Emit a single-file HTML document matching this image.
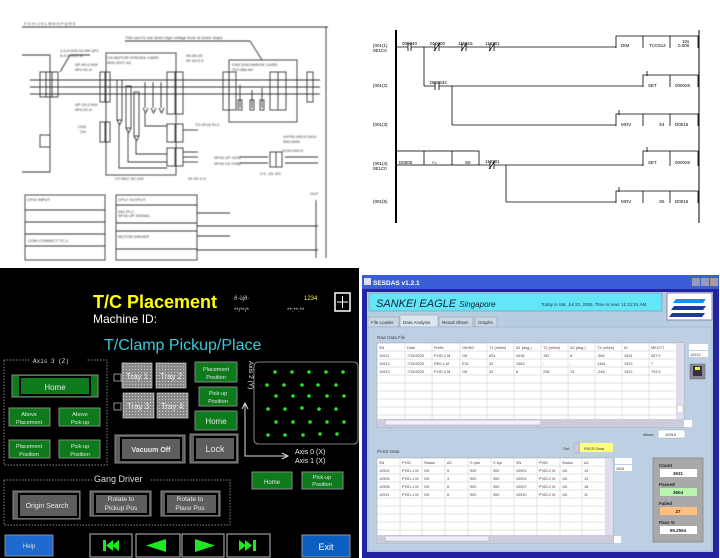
<!DOCTYPE html>
<html><head><meta charset="utf-8"><style>
html,body{margin:0;padding:0;background:#fff;}
svg{display:block;font-family:"Liberation Sans",sans-serif;}
</style></head><body>
<svg width="720" height="558" viewBox="0 0 720 558" xmlns="http://www.w3.org/2000/svg">
<defs>
<filter id="bl"><feGaussianBlur stdDeviation="0.4"/></filter>
<pattern id="dots" width="3" height="3" patternUnits="userSpaceOnUse"><rect width="3" height="3" fill="#8a8a8a"/><rect width="1" height="1" fill="#d0d0d0"/></pattern>
</defs>
<rect width="720" height="558" fill="#fff"/>

<!-- ===== left schematic ===== -->
<g stroke="#333" stroke-width="0.9" fill="none" filter="url(#bl)">
<line x1="22" y1="27" x2="328" y2="27"/>
<line x1="326" y1="27" x2="326" y2="258"/>
<polyline points="22,55 50,55 50,172 22,172"/>
<rect x="40" y="72" width="18" height="25"/><line x1="46" y1="72" x2="46" y2="97"/><line x1="52" y1="72" x2="52" y2="97"/>
<rect x="100" y="72" width="10" height="30"/><line x1="105" y1="72" x2="105" y2="102"/>
<rect x="106" y="53" width="70" height="122"/>
<rect x="167" y="72" width="16" height="42"/><line x1="175" y1="72" x2="175" y2="114"/>
<rect x="100" y="122" width="10" height="20"/><line x1="105" y1="122" x2="105" y2="142"/>
<rect x="167" y="124" width="16" height="18"/><line x1="175" y1="124" x2="175" y2="142"/>
<rect x="167" y="148" width="16" height="18"/><line x1="175" y1="148" x2="175" y2="166"/>
<rect x="229" y="60" width="68" height="62"/>
<rect x="223" y="72" width="13" height="38"/><line x1="229" y1="72" x2="229" y2="110"/>
<rect x="270" y="72" width="16" height="38"/><line x1="278" y1="72" x2="278" y2="110"/>
<rect x="307" y="72" width="6" height="30"/>
<line x1="30" y1="80" x2="320" y2="80"/>
<line x1="30" y1="87" x2="320" y2="87"/>
<line x1="30" y1="94" x2="320" y2="94"/>
<rect x="117" y="80" width="5" height="40"/>
<rect x="126" y="86" width="5" height="42"/>
<rect x="134" y="92" width="5" height="44"/>
<path d="M117 120 l2.5 5 l2.5 -5 M126 128 l2.5 5 l2.5 -5 M134 136 l2.5 5 l2.5 -5 M143 108 l2.5 5 l2.5 -5 M151 108 l2.5 5 l2.5 -5 M159 108 l2.5 5 l2.5 -5"/>
<line x1="145" y1="82" x2="145" y2="108"/>
<line x1="153" y1="82" x2="153" y2="108"/>
<line x1="161" y1="82" x2="161" y2="108"/>
<polyline points="145,113 145,126 167,126"/>
<polyline points="119,125 119,168 167,168"/>
<polyline points="128,133 128,162 167,162"/>
<polyline points="136,141 136,154 167,154"/>
<line x1="240" y1="85" x2="240" y2="108"/>
<line x1="252" y1="90" x2="252" y2="108"/>
<line x1="262" y1="88" x2="262" y2="108"/>
<rect x="238" y="100" width="4" height="10"/><rect x="250" y="100" width="4" height="10"/><rect x="260" y="100" width="4" height="10"/>
<line x1="183" y1="152" x2="198" y2="152"/>
<line x1="183" y1="157" x2="198" y2="157"/>
<line x1="183" y1="162" x2="198" y2="162"/>
<line x1="183" y1="130" x2="198" y2="130"/>
<line x1="240" y1="157" x2="268" y2="157"/>
<line x1="240" y1="163" x2="268" y2="163"/>
<rect x="270" y="152" width="12" height="15"/><line x1="276" y1="152" x2="276" y2="167"/>
<line x1="285" y1="157" x2="318" y2="157"/>
<line x1="285" y1="163" x2="318" y2="163"/>
<line x1="125" y1="41" x2="250" y2="41"/>
<polyline points="250,41 262,60"/><polyline points="60,72 70,55 90,55"/>
<rect x="40" y="135" width="10" height="12"/>
<rect x="25" y="195" width="80" height="65"/>
<line x1="25" y1="210" x2="105" y2="210"/>
<line x1="25" y1="222" x2="105" y2="222"/>
<line x1="25" y1="234" x2="105" y2="234"/>
<line x1="25" y1="246" x2="105" y2="246"/>
<rect x="116" y="195" width="81" height="65"/>
<line x1="116" y1="205" x2="197" y2="205"/>
<line x1="116" y1="223" x2="197" y2="223"/>
<line x1="116" y1="231" x2="197" y2="231"/>
<line x1="116" y1="249" x2="197" y2="249"/>
<line x1="197" y1="213" x2="230" y2="213"/>
<line x1="197" y1="236" x2="230" y2="236"/>
<line x1="197" y1="226" x2="318" y2="226"/>
<line x1="197" y1="250" x2="318" y2="250"/>
<line x1="316" y1="200" x2="316" y2="258"/>
</g>
<g font-size="4" fill="#333" filter="url(#bl)">
<text x="125" y="39">This card is use when high voltage level of motor stops.</text>
<text x="107" y="59">CN MOTOR STROKE CARD</text>
<text x="107" y="64">M02-0027-A1</text>
<text x="232" y="66">CN3 DISCHARGE CARD</text>
<text x="232" y="71">ITO-089-A0</text>
<text x="60" y="52">1-0-0-003-GL0W UP1</text>
<text x="60" y="57">A-0-0-0CF-A</text>
<text x="75" y="66">SP-40-0 009</text><text x="75" y="71">0F0-0C-0</text>
<text x="75" y="106">SP-10-0 009</text><text x="75" y="111">0F0-0C-0</text>
<text x="78" y="128">CN3</text><text x="80" y="133">CN</text>
<text x="186" y="57">09-0A-00</text><text x="186" y="62">0F-00-0 0</text>
<text x="195" y="126">TO 0F16 PLC</text>
<text x="283" y="138">X4T00-000-0 0410</text><text x="283" y="143">000-0004</text>
<text x="282" y="152">0C00-000-0</text>
<text x="214" y="159">SP16 UP  X20E</text><text x="214" y="165">SP16 C0  Y00B</text>
<text x="260" y="175">2-0, 1D--E0</text>
<text x="188" y="180">0F-0F-0 0</text>
<text x="115" y="180">VT-REC 5V 24V</text>
<text x="27" y="201">CP10 INPUT</text>
<text x="118" y="201">CP17 OUTPUT</text>
<text x="118" y="213">0A1 PLC</text><text x="118" y="217">SP16 UP SIGNAL</text>
<text x="118" y="238">MOTOR DRIVER</text>
<text x="28" y="242">COM  CONNECT TC-1</text>
<text x="310" y="195">OUT</text>
<text x="24" y="25">F    G    H    I    J    K    L    M    N    O    P    Q    R    S</text>
</g>

<!-- ===== ladder ===== -->
<g stroke="#000" fill="none">
<line x1="396" y1="30" x2="396" y2="223" stroke-width="2"/>
<line x1="699" y1="30" x2="699" y2="223" stroke-width="1"/>
<line x1="396" y1="47" x2="616" y2="47" stroke-width="0.8"/>
<line x1="424" y1="47" x2="424" y2="86" stroke-width="0.8"/>
<line x1="424" y1="86" x2="643" y2="86" stroke-width="0.8"/>
<line x1="452" y1="86" x2="452" y2="125" stroke-width="0.8"/>
<line x1="452" y1="125" x2="616" y2="125" stroke-width="0.8"/>
<line x1="479" y1="165" x2="643" y2="165" stroke-width="0.8"/>
<line x1="506" y1="165" x2="506" y2="202" stroke-width="0.8"/>
<line x1="506" y1="202" x2="616" y2="202" stroke-width="0.8"/>
<polyline points="616,48 616,36 698,36 698,48" stroke-width="0.8"/><line x1="643" y1="36" x2="643" y2="48" stroke-width="0.8"/><line x1="670" y1="36" x2="670" y2="48" stroke-width="0.8"/>
<polyline points="643,87 643,75 698,75 698,87" stroke-width="0.8"/><line x1="670" y1="75" x2="670" y2="87" stroke-width="0.8"/>
<polyline points="616,126 616,114 698,114 698,126" stroke-width="0.8"/><line x1="643" y1="114" x2="643" y2="126" stroke-width="0.8"/><line x1="670" y1="114" x2="670" y2="126" stroke-width="0.8"/>
<rect x="396" y="151" width="83" height="14" stroke-width="0.8"/><line x1="424" y1="151" x2="424" y2="165" stroke-width="0.8"/><line x1="452" y1="151" x2="452" y2="165" stroke-width="0.8"/>
<polyline points="643,166 643,151 698,151 698,166" stroke-width="0.8"/><line x1="670" y1="151" x2="670" y2="166" stroke-width="0.8"/>
<polyline points="616,203 616,191 698,191 698,203" stroke-width="0.8"/><line x1="643" y1="191" x2="643" y2="203" stroke-width="0.8"/><line x1="670" y1="191" x2="670" y2="203" stroke-width="0.8"/>
</g>
<g fill="#fff" stroke="none"><rect x="408" y="42" width="3" height="10"/><rect x="435" y="42" width="4" height="10"/><rect x="462" y="42" width="4" height="10"/><rect x="490" y="42" width="4" height="10"/><rect x="435" y="81" width="4" height="10"/><rect x="490" y="160" width="4" height="10"/></g>
<g stroke="#000" stroke-width="0.8">
<line x1="408" y1="43" x2="408" y2="51"/><line x1="411" y1="43" x2="411" y2="51"/>
<line x1="435" y1="43" x2="435" y2="51"/><line x1="439" y1="43" x2="439" y2="51"/><line x1="434" y1="51" x2="440" y2="43"/>
<line x1="462" y1="43" x2="462" y2="51"/><line x1="466" y1="43" x2="466" y2="51"/><line x1="461" y1="51" x2="467" y2="43"/>
<line x1="490" y1="43" x2="490" y2="51"/><line x1="494" y1="43" x2="494" y2="51"/><line x1="489" y1="51" x2="495" y2="43"/>
<line x1="435" y1="82" x2="435" y2="90"/><line x1="439" y1="82" x2="439" y2="90"/>
<line x1="490" y1="161" x2="490" y2="169"/><line x1="494" y1="161" x2="494" y2="169"/><line x1="489" y1="169" x2="495" y2="161"/>
<line x1="647" y1="71" x2="647" y2="76"/><line x1="619" y1="110" x2="619" y2="115"/><line x1="647" y1="147" x2="647" y2="152"/><line x1="619" y1="187" x2="619" y2="192"/>
</g>
<g font-size="4.5" fill="#000">
<text x="373" y="47">(001(1)</text><text x="373" y="52">0E1C0</text>
<text x="373" y="87">(001(2)</text><text x="373" y="126">(001(3)</text>
<text x="373" y="165">(001(4)</text><text x="373" y="170">0E1C0</text><text x="373" y="203">(001(5)</text>
<text x="402" y="45">000040</text><text x="430" y="45">010000</text><text x="458" y="45">115515</text><text x="485" y="45">112201</text>
<text x="430" y="84">DEE534</text><text x="485" y="163">112201</text>
<text x="621" y="47">DIM</text><text x="649" y="47">TCC514</text><text x="682" y="43">10s</text><text x="678" y="47">0.000</text>
<text x="648" y="87">SET</text><text x="675" y="87">000026</text>
<text x="621" y="126">MOV</text><text x="659" y="126">S4</text><text x="675" y="126">D0015</text>
<text x="399" y="164">D0000</text><text x="432" y="164">&lt;=</text><text x="465" y="164">S0</text>
<text x="648" y="164">SET</text><text x="675" y="164">000026</text>
<text x="621" y="203">MOV</text><text x="659" y="203">S5</text><text x="675" y="203">D0015</text>
</g>

<!-- ===== HMI panel ===== -->
<rect x="0" y="268" width="359" height="290" fill="#000"/>
<text x="93" y="308" font-size="18" font-weight="bold" fill="#ffff00">T/C Placement</text>
<text x="93" y="323" font-size="12" fill="#fff">Machine ID:</text>
<text x="234" y="300" font-size="6" fill="#ccc">ð·ùjð·</text>
<text x="304" y="300" font-size="6" fill="#ff0">1234</text>
<text x="234" y="312" font-size="6" fill="#ccc">**/**/*</text>
<text x="287" y="312" font-size="6" fill="#ccc">**:**:**</text>
<rect x="335" y="293" width="15" height="18" fill="none" stroke="#fff" stroke-width="1.5"/>
<path d="M342.5 296 v12 M337 302 h11" stroke="#fff" stroke-width="1"/>
<text x="104" y="350" font-size="16" fill="#3cc8d8">T/Clamp Pickup/Place</text>
<rect x="4" y="360" width="103" height="105" fill="none" stroke="#bbb" stroke-dasharray="1.5,1.5" stroke-width="0.7"/>
<rect x="30" y="355" width="56" height="9" fill="#000"/>
<text x="33" y="363" font-size="6" fill="#ddd" font-family="Liberation Mono">Axis 3 (Z)</text>
<rect x="4" y="480" width="226" height="45" fill="none" stroke="#bbb" stroke-dasharray="1.5,1.5" stroke-width="0.7"/>
<rect x="92" y="472" width="58" height="12" fill="#000"/>
<text x="94" y="482" font-size="9" fill="#ddd">Gang Driver</text>

<g stroke="#888" stroke-width="1">
<rect x="12" y="375" width="86" height="22" fill="#0d7a1c"/>
<rect x="9" y="408" width="41" height="18" fill="#0d7a1c"/>
<rect x="59" y="408" width="41" height="18" fill="#0d7a1c"/>
<rect x="9" y="440" width="41" height="18" fill="#0d7a1c"/>
<rect x="59" y="440" width="41" height="18" fill="#0d7a1c"/>
<rect x="195" y="362" width="42" height="20" fill="#0d7a1c"/>
<rect x="199" y="387" width="38" height="19" fill="#0d7a1c"/>
<rect x="195" y="411" width="42" height="19" fill="#0d7a1c"/>
<rect x="252" y="472" width="40" height="17" fill="#0d7a1c"/>
<rect x="302" y="472" width="41" height="17" fill="#0d7a1c"/>
<rect x="115" y="435" width="70" height="28" fill="#5e5e5e"/>
<rect x="190" y="434" width="48" height="29" fill="#5e5e5e"/>
<rect x="13" y="491" width="67" height="28" fill="#5e5e5e"/>
<rect x="90" y="491" width="61" height="25" fill="#5e5e5e"/>
<rect x="161" y="491" width="59" height="25" fill="#5e5e5e"/>
</g>
<g stroke="#000" stroke-width="2" fill="none">
<rect x="20" y="377" width="70" height="18"/><rect x="121" y="438" width="60" height="22"/><rect x="195" y="437" width="40" height="23"/>
<rect x="19" y="494" width="59" height="23"/><rect x="95" y="494" width="53" height="20"/><rect x="166" y="494" width="51" height="20"/>
</g>
<g fill="url(#dots)" stroke="#ccc" stroke-width="0.7">
<rect x="122" y="363" width="30" height="25"/><rect x="156" y="363" width="30" height="25"/>
<rect x="123" y="393" width="31" height="25"/><rect x="157" y="393" width="31" height="25"/>
</g>
<rect x="114" y="374" width="7" height="7" fill="none" stroke="#ccc" stroke-width="0.7"/>
<rect x="114" y="403" width="7" height="7" fill="none" stroke="#ccc" stroke-width="0.7"/>
<g font-size="8" fill="#eee" text-anchor="middle">
<text x="137" y="379">Tray 1</text><text x="171" y="379">Tray 2</text><text x="138" y="409">Tray 3</text><text x="172" y="409">Tray 4</text>
</g>
<g fill="#e8e8e8" text-anchor="middle">
<text x="55" y="390" font-size="8">Home</text>
<text x="29" y="416" font-size="5.5">Above</text><text x="29" y="424" font-size="5.5">Placement</text>
<text x="80" y="416" font-size="5.5">Above</text><text x="80" y="424" font-size="5.5">Pick-up</text>
<text x="29" y="448" font-size="5.5">Placement</text><text x="29" y="456" font-size="5.5">Position</text>
<text x="80" y="448" font-size="5.5">Pick-up</text><text x="80" y="456" font-size="5.5">Position</text>
<text x="216" y="371" font-size="5.5">Placement</text><text x="216" y="379" font-size="5.5">Position</text>
<text x="218" y="395" font-size="5.5">Pick-up</text><text x="218" y="403" font-size="5.5">Position</text>
<text x="216" y="424" font-size="8">Home</text>
<text x="272" y="484" font-size="6">Home</text>
<text x="322" y="479" font-size="5.5">Pick-up</text><text x="322" y="486" font-size="5.5">Position</text>
<text x="151" y="452" font-size="7" font-weight="bold">Vacuum Off</text>
<text x="215" y="452" font-size="9">Lock</text>
<text x="47" y="508" font-size="7">Origin Search</text>
<text x="121" y="501" font-size="6.5">Rotate to</text><text x="121" y="510" font-size="6.5">Pickup Pos</text>
<text x="190" y="501" font-size="6.5">Rotate to</text><text x="190" y="510" font-size="6.5">Place Pos</text>
</g>
<text transform="translate(249,361) rotate(90)" font-size="6.5" fill="#eee">Axis 2 (Y)</text>
<rect x="254" y="362" width="104" height="82" rx="4" fill="#000" stroke="#aaa" stroke-width="0.8"/>
<g fill="#2ee02e">
<circle cx="275" cy="372" r="1.8"/><circle cx="292" cy="372" r="1.8"/><circle cx="309" cy="372" r="1.8"/><circle cx="326" cy="372" r="1.8"/><circle cx="343" cy="372" r="1.8"/>
<circle cx="267" cy="385" r="1.8"/><circle cx="284" cy="385" r="1.8"/><circle cx="302" cy="385" r="1.8"/><circle cx="318" cy="385" r="1.8"/><circle cx="336" cy="385" r="1.8"/>
<circle cx="276" cy="396" r="1.8"/><circle cx="293" cy="396" r="1.8"/><circle cx="309" cy="396" r="1.8"/><circle cx="327" cy="396" r="1.8"/><circle cx="344" cy="396" r="1.8"/>
<circle cx="268" cy="409" r="1.8"/><circle cx="285" cy="409" r="1.8"/><circle cx="302" cy="408" r="1.8"/><circle cx="319" cy="409" r="1.8"/><circle cx="336" cy="409" r="1.8"/>
<circle cx="276" cy="422" r="1.8"/><circle cx="293" cy="422" r="1.8"/><circle cx="310" cy="422" r="1.8"/><circle cx="327" cy="422" r="1.8"/><circle cx="344" cy="422" r="1.8"/>
<circle cx="268" cy="435" r="1.8"/><circle cx="285" cy="435" r="1.8"/><circle cx="303" cy="435" r="1.8"/><circle cx="320" cy="434" r="1.8"/><circle cx="337" cy="434" r="1.8"/>
</g>
<polyline points="245,404 245,456 287,456" fill="none" stroke="#ddd" stroke-width="1"/>
<path d="M242 409 L245 403 L248 409 M282 453 L288 456 L282 459" fill="none" stroke="#ddd" stroke-width="1"/>
<text x="295" y="454" font-size="7" fill="#eee">Axis 0 (X)</text>
<text x="295" y="463" font-size="7" fill="#eee">Axis 1 (X)</text>
<rect x="5" y="535" width="48" height="21" fill="#1f6ad0" stroke="#888"/>
<text x="29" y="548" font-size="6" fill="#ddd" text-anchor="middle">Help</text>
<rect x="302" y="535" width="48" height="22" fill="#0a5fc0" stroke="#999"/>
<text x="326" y="550" font-size="9" fill="#fff" text-anchor="middle">Exit</text>
<g fill="#000" stroke="#bbb" stroke-width="1">
<rect x="90" y="534" width="42" height="23"/><rect x="136" y="534" width="44" height="23"/><rect x="182" y="534" width="42" height="23"/><rect x="227" y="534" width="43" height="23"/>
</g>
<g fill="#1ee81e">
<rect x="103" y="540" width="3" height="11"/><path d="M106 545.5 L113 540 V551Z M112 545.5 L119 540 V551Z"/>
<path d="M146 545.5 L166 539 V552Z"/>
<path d="M195 539 L215 545.5 L195 552Z"/>
<path d="M239 540 L246 545.5 L239 551Z M245 540 L252 545.5 L245 551Z"/><rect x="253" y="540" width="3" height="11"/>
</g>

<!-- ===== SESDAS app ===== -->
<rect x="359" y="268" width="361" height="290" fill="#fff"/>
<rect x="362" y="275" width="357" height="283" fill="#2424a0"/>
<rect x="362" y="275" width="357" height="14" fill="#3a5ed8"/>
<rect x="364" y="278" width="7" height="7" fill="#dde"/>
<text x="373" y="285" font-size="6.5" fill="#fff" font-weight="bold">SESDAS v1.2.1</text>
<rect x="692" y="278" width="8" height="8" fill="#99b" /><rect x="701" y="278" width="8" height="8" fill="#99b"/><rect x="710" y="278" width="8" height="8" fill="#a99"/>
<rect x="367" y="292" width="346" height="260" fill="#b7cde2"/>
<rect x="369" y="293" width="293" height="18" fill="#62e6f8" stroke="#8ab"/>
<text x="376" y="307" font-size="11" font-style="italic" fill="#123">SANKEI EAGLE <tspan font-size="8">Singapore</tspan></text>
<text x="541" y="306" font-size="4.5" fill="#234">Today is Sat, Jul 23, 2005, Time is now: 11:21:51 AM</text>
<rect x="667" y="293" width="45" height="27" fill="#fff" stroke="#88a"/>
<path d="M676 299 h30 l-3 4 h-30z" fill="#1e8ee8"/><path d="M674 306 h32 l-3 4 h-32z" fill="#1a3aa0"/><path d="M672 313 h33 l-3 4 h-33z" fill="#1a3aa0"/>
<g font-size="4.5" fill="#333">
<rect x="368" y="317" width="31" height="10" fill="#c9d6e3" stroke="#999" stroke-width="0.5"/><text x="371" y="324">File Loader</text>
<rect x="400" y="315" width="38" height="12" fill="#dbe6f0" stroke="#999" stroke-width="0.5"/><text x="403" y="324">Data Analysis</text>
<rect x="439" y="317" width="34" height="10" fill="#c9d6e3" stroke="#999" stroke-width="0.5"/><text x="442" y="324">Result Sheet</text>
<rect x="475" y="317" width="22" height="10" fill="#c9d6e3" stroke="#999" stroke-width="0.5"/><text x="478" y="324">Graphs</text>
</g>
<rect x="368" y="327" width="344" height="224" fill="#bdd0e3" stroke="#9ab" stroke-width="0.5"/>
<text x="377" y="339" font-size="4.5" fill="#445">Raw Data File</text>
<text x="377" y="453" font-size="4.5" fill="#445">PASS Data</text>
<rect x="377" y="343" width="307" height="84" fill="#fff" stroke="#999" stroke-width="0.5"/>
<g stroke="#c8c8c8" stroke-width="0.5">
<line x1="377" y1="351" x2="676" y2="351"/><line x1="377" y1="359" x2="676" y2="359"/><line x1="377" y1="367" x2="676" y2="367"/><line x1="377" y1="375" x2="676" y2="375"/><line x1="377" y1="383" x2="676" y2="383"/><line x1="377" y1="391" x2="676" y2="391"/><line x1="377" y1="399" x2="676" y2="399"/><line x1="377" y1="407" x2="676" y2="407"/><line x1="377" y1="415" x2="676" y2="415"/>
<line x1="405" y1="343" x2="405" y2="419"/><line x1="432" y1="343" x2="432" y2="419"/><line x1="460" y1="343" x2="460" y2="419"/><line x1="487" y1="343" x2="487" y2="419"/><line x1="514" y1="343" x2="514" y2="419"/><line x1="541" y1="343" x2="541" y2="419"/><line x1="568" y1="343" x2="568" y2="419"/><line x1="595" y1="343" x2="595" y2="419"/><line x1="622" y1="343" x2="622" y2="419"/><line x1="649" y1="343" x2="649" y2="419"/>
</g>
<rect x="377" y="419" width="307" height="8" fill="#ccd"/><rect x="385" y="420" width="156" height="5" fill="#eef" stroke="#999" stroke-width="0.4"/>
<rect x="676" y="343" width="8" height="76" fill="#dde"/><rect x="677" y="405" width="6" height="8" fill="#fff" stroke="#999" stroke-width="0.4"/>
<g font-size="3.8" fill="#535">
<text x="379" y="349">SN</text><text x="407" y="349">Date</text><text x="434" y="349">Prefix</text><text x="462" y="349">OK/NG</text><text x="489" y="349">T1 (mNm)</text><text x="516" y="349">A1 (deg.)</text><text x="543" y="349">T2 (mNm)</text><text x="570" y="349">A2 (deg.)</text><text x="597" y="349">T3 (mNm)</text><text x="624" y="349">ID</text><text x="651" y="349">MECCT</text>
<text x="379" y="357">10911</text><text x="407" y="357">7/15/2005</text><text x="434" y="357">FVID-1 M</text><text x="462" y="357">OK</text><text x="489" y="357">824</text><text x="516" y="357">4016</text><text x="543" y="357">152</text><text x="570" y="357">8</text><text x="597" y="357">-984</text><text x="624" y="357">1924</text><text x="651" y="357">287.9</text>
<text x="379" y="365">10912</text><text x="407" y="365">7/15/2005</text><text x="434" y="365">RE0-1 M</text><text x="462" y="365">E31</text><text x="489" y="365">32</text><text x="516" y="365">1583</text><text x="543" y="365">-</text><text x="570" y="365">-</text><text x="597" y="365">1344</text><text x="624" y="365">1923</text><text x="651" y="365">?</text>
<text x="379" y="373">10913</text><text x="407" y="373">7/15/2005</text><text x="434" y="373">FVID-2 M</text><text x="462" y="373">OK</text><text x="489" y="373">32</text><text x="516" y="373">8</text><text x="543" y="373">208</text><text x="570" y="373">13</text><text x="597" y="373">-248</text><text x="624" y="373">1922</text><text x="651" y="373">793.9</text>
</g>
<rect x="689" y="344" width="19" height="6" fill="#fff"/><rect x="689" y="351" width="19" height="6" fill="#fff"/>
<text x="690" y="356" font-size="3.8" fill="#444">10912</text>
<rect x="690" y="364" width="15" height="15" fill="#889" stroke="#666" stroke-width="0.5"/><rect x="693" y="366" width="9" height="10" fill="#333"/><rect x="695" y="367" width="5" height="3" fill="#ee4"/>
<rect x="684" y="420" width="8" height="7" fill="#fff"/>
<text x="643" y="436" font-size="4" fill="#333">#lines</text>
<rect x="658" y="430" width="27" height="8" fill="#fff" stroke="#999" stroke-width="0.4"/><text x="665" y="436" font-size="4" fill="#333">10915</text>
<text x="563" y="450" font-size="4" fill="#333">Get</text>
<rect x="574" y="443" width="5" height="10" fill="#ccd" stroke="#999" stroke-width="0.4"/>
<rect x="580" y="443" width="33" height="9" fill="#ffff80"/><text x="584" y="450" font-size="4" fill="#333">PASS Data</text>
<rect x="377" y="458" width="236" height="85" fill="#fff" stroke="#999" stroke-width="0.5"/>
<g stroke="#c8c8c8" stroke-width="0.5">
<line x1="377" y1="466" x2="605" y2="466"/><line x1="377" y1="474" x2="605" y2="474"/><line x1="377" y1="482" x2="605" y2="482"/><line x1="377" y1="490" x2="605" y2="490"/><line x1="377" y1="498" x2="605" y2="498"/><line x1="377" y1="506" x2="605" y2="506"/><line x1="377" y1="514" x2="605" y2="514"/><line x1="377" y1="522" x2="605" y2="522"/><line x1="377" y1="530" x2="605" y2="530"/>
<line x1="400" y1="458" x2="400" y2="535"/><line x1="422" y1="458" x2="422" y2="535"/><line x1="445" y1="458" x2="445" y2="535"/><line x1="468" y1="458" x2="468" y2="535"/><line x1="491" y1="458" x2="491" y2="535"/><line x1="514" y1="458" x2="514" y2="535"/><line x1="537" y1="458" x2="537" y2="535"/><line x1="560" y1="458" x2="560" y2="535"/><line x1="582" y1="458" x2="582" y2="535"/>
</g>
<rect x="377" y="535" width="236" height="8" fill="#ccd"/><rect x="385" y="536" width="104" height="5" fill="#eef" stroke="#999" stroke-width="0.4"/>
<rect x="605" y="458" width="8" height="77" fill="#dde"/>
<g font-size="3.8" fill="#535">
<text x="379" y="464">SN</text><text x="402" y="464">PVID</text><text x="424" y="464">Status</text><text x="447" y="464">A2</text><text x="470" y="464">S rpm</text><text x="493" y="464">S tqu</text><text x="516" y="464">SN</text><text x="539" y="464">PVID</text><text x="562" y="464">Status</text><text x="584" y="464">A2</text>
<text x="379" y="472">10902</text><text x="402" y="472">PVID-1 M</text><text x="424" y="472">OK</text><text x="447" y="472">5</text><text x="470" y="472">900</text><text x="493" y="472">300</text><text x="516" y="472">10901</text><text x="539" y="472">PVID-2 M</text><text x="562" y="472">OK</text><text x="584" y="472">14</text>
<text x="379" y="480">10905</text><text x="402" y="480">PVID-1 M</text><text x="424" y="480">OK</text><text x="447" y="480">3</text><text x="470" y="480">900</text><text x="493" y="480">300</text><text x="516" y="480">10904</text><text x="539" y="480">PVID-2 M</text><text x="562" y="480">OK</text><text x="584" y="480">13</text>
<text x="379" y="488">10908</text><text x="402" y="488">PVID-1 M</text><text x="424" y="488">OK</text><text x="447" y="488">8</text><text x="470" y="488">900</text><text x="493" y="488">300</text><text x="516" y="488">10907</text><text x="539" y="488">PVID-2 M</text><text x="562" y="488">OK</text><text x="584" y="488">18</text>
<text x="379" y="496">10911</text><text x="402" y="496">PVID-1 M</text><text x="424" y="496">OK</text><text x="447" y="496">8</text><text x="470" y="496">900</text><text x="493" y="496">300</text><text x="516" y="496">10910</text><text x="539" y="496">PVID-2 M</text><text x="562" y="496">OK</text><text x="584" y="496">11</text>
</g>
<rect x="615" y="458" width="17" height="6" fill="#fff"/><rect x="615" y="465" width="17" height="6" fill="#fff"/>
<text x="616" y="470" font-size="3.6" fill="#444">3608</text>
<rect x="614" y="536" width="7" height="7" fill="#fff"/>
<rect x="653" y="458" width="50" height="84" fill="#a9a9a9" stroke="#888" stroke-width="0.8"/>
<g font-size="4.5" font-weight="bold" fill="#223">
<text x="659" y="467">Count</text><text x="659" y="486">Passed</text><text x="659" y="505">Failed</text><text x="659" y="524">Pass %</text>
</g>
<rect x="660" y="469" width="37" height="8" fill="#fff"/><rect x="660" y="488" width="37" height="8" fill="#b8f5b0"/><rect x="660" y="507" width="37" height="8" fill="#ffbf80"/><rect x="660" y="526" width="37" height="8" fill="#fff"/>
<g font-size="4.5" font-weight="bold" fill="#223" text-anchor="middle">
<text x="678" y="475">3631</text><text x="678" y="494">3604</text><text x="678" y="513">27</text><text x="678" y="532">99.2564</text>
</g>
</svg>
</body></html>
